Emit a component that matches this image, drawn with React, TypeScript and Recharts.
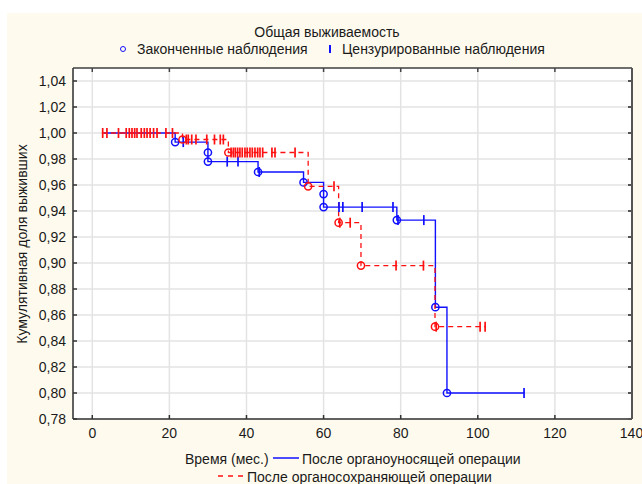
import { ComposedChart, Line, Scatter, XAxis, YAxis, CartesianGrid } from 'recharts'

// После органоуносящей операции (синяя)
const radStepT = [3, 21.5, 30, 43, 54.8, 60, 79, 89, 92, 112]
const radStepS = [1.0, 0.993, 0.978, 0.97, 0.962, 0.943, 0.933, 0.866, 0.8, 0.8]
const radEventT = [21.5, 30, 30, 43, 54.8, 60, 60, 79, 89, 92]
const radEventS = [0.993, 0.985, 0.978, 0.97, 0.962, 0.953, 0.943, 0.933, 0.866, 0.8]
const radCensT = [23.6, 35, 37.8, 43.3, 64, 65, 70, 78, 79.3, 86, 112]
const radCensS = [0.993, 0.978, 0.978, 0.97, 0.943, 0.943, 0.943, 0.943, 0.933, 0.933, 0.8]

// После органосохраняющей операции (красная)
const consStepT = [2.5, 23.4, 35.3, 56, 63.9, 69.7, 88.9, 102]
const consStepS = [1.0, 0.995, 0.985, 0.959, 0.931, 0.898, 0.851, 0.851]
const consEventT = [23.4, 35.3, 56, 63.9, 69.7, 88.9]
const consEventS = [0.995, 0.985, 0.959, 0.931, 0.898, 0.851]
const consCensT = [
  2.7, 3.8, 6.8, 8.8, 9.6, 10.3, 11.0, 11.6, 12.7, 13.5, 14.2, 15.0, 15.9, 16.8, 19.1, 20.8,
  24.4, 24.9, 25.8, 26.9, 29.7, 31.7, 33.2, 34.0,
  36.0, 36.6, 37.1, 37.7, 38.3, 38.9, 39.6, 40.2, 40.9, 41.5, 42.2, 42.9, 43.5, 44.2, 46.6, 47.4, 52.6,
  62.7, 64.2, 66.9, 78.8, 85.9, 89.2, 100.6, 101.9,
]
const consCensS = [
  ...Array(16).fill(1.0),
  ...Array(8).fill(0.995),
  ...Array(17).fill(0.985),
  0.959, 0.931, 0.931, 0.898, 0.898, 0.851, 0.851, 0.851,
]

const xTicks = [0, 20, 40, 60, 80, 100, 120, 140]
const yTicks = [0.78, 0.8, 0.82, 0.84, 0.86, 0.88, 0.9, 0.92, 0.94, 0.96, 0.98, 1.0, 1.02, 1.04]

const BLUE = '#1010ff'
const RED = '#ff1010'
const FONT = '"Liberation Sans", Arial, sans-serif'

const pts = (t: number[], s: number[]) => t.map((v, i) => ({ t: v, s: s[i] }))
const fmt = (v: number) => v.toFixed(2).replace('.', ',')
const blank = () => ''

const ring = (color: string) => (p: any) => (
  <circle cx={p.cx} cy={p.cy} r={3.6} fill="none" stroke={color} strokeWidth={1.5} />
)
const tick = (color: string) => (p: any) => (
  <line x1={p.cx} x2={p.cx} y1={p.cy - 5} y2={p.cy + 5} stroke={color} strokeWidth={1.7} />
)

const txt: React.CSSProperties = {
  position: 'absolute', fontFamily: FONT, fontSize: 14, color: '#1a1a1a', whiteSpace: 'nowrap', lineHeight: '16px',
}

export default function App() {
  const axisTick = { fontSize: 14, fill: '#1a1a1a', fontFamily: FONT }
  return (
    <div style={{ position: 'absolute', left: 0, top: 0, width: 642, height: 484, background: '#fff' }}>
      <div style={{ position: 'absolute', left: 7, top: 13, width: 635, height: 471, background: '#fffaee' }} />

      <div style={{ ...txt, left: 0, width: 654, top: 24, textAlign: 'center' }}>Общая выживаемость</div>
      <div style={{ position: 'absolute', left: 120, top: 46, width: 6, height: 6, borderRadius: '50%', border: `1.5px solid ${BLUE}`, boxSizing: 'border-box' }} />
      <div style={{ ...txt, left: 137, top: 41 }}>Законченные наблюдения</div>
      <div style={{ position: 'absolute', left: 329, top: 45, width: 2, height: 8, background: BLUE }} />
      <div style={{ ...txt, left: 342, top: 41 }}>Цензурированные наблюдения</div>

      <div style={{ ...txt, left: 22, top: 244, transform: 'translate(-50%, -50%) rotate(-90deg)' }}>
        Кумулятивная доля выживших
      </div>

      <div style={{ ...txt, left: 185, top: 451 }}>Время (мес.)</div>
      <svg style={{ position: 'absolute', left: 272, top: 454 }} width={28} height={8}>
        <line x1={1} x2={27} y1={4} y2={4} stroke={BLUE} strokeWidth={1.5} />
      </svg>
      <div style={{ ...txt, left: 302, top: 451 }}>После органоуносящей операции</div>
      <svg style={{ position: 'absolute', left: 217, top: 472 }} width={30} height={8}>
        <line x1={1} x2={28} y1={4} y2={4} stroke={RED} strokeWidth={1.5} strokeDasharray="5 5" />
      </svg>
      <div style={{ ...txt, left: 247, top: 469 }}>После органосохраняющей операции</div>

      <div style={{ position: 'absolute', left: 0, top: 0 }}>
        <ComposedChart width={642} height={484} margin={{ top: 67, right: 9, left: 23, bottom: 35 }} style={{ fontFamily: FONT }}>
          <CartesianGrid fill="#fff" stroke="#e3e3e3" strokeWidth={1.5} />
          <XAxis
            dataKey="t" type="number" domain={[-5, 140]} ticks={xTicks} allowDataOverflow
            height={30} tickSize={-4} tickMargin={13} tick={axisTick}
            stroke="#333" strokeWidth={1.5}
          />
          <XAxis
            xAxisId="top" orientation="top" dataKey="t" type="number" domain={[-5, 140]} ticks={xTicks}
            allowDataOverflow height={1} tickSize={-4} tickFormatter={blank} stroke="#444" strokeWidth={1.5}
          />
          <YAxis
            dataKey="s" type="number" domain={[0.78, 1.05]} ticks={yTicks} allowDataOverflow
            width={50} tickSize={-4} tickMargin={11} tickFormatter={fmt} tick={axisTick}
            stroke="#333" strokeWidth={1.5}
          />
          <YAxis
            yAxisId="right" orientation="right" dataKey="s" type="number" domain={[0.78, 1.05]} ticks={yTicks}
            allowDataOverflow width={1} tickSize={-4} tickFormatter={blank} stroke="#555" strokeWidth={2}
          />
          <Line data={pts(radStepT, radStepS)} dataKey="s" type="stepAfter" stroke={BLUE} strokeWidth={1.4} dot={false} activeDot={false} isAnimationActive={false} />
          <Line data={pts(consStepT, consStepS)} dataKey="s" type="stepAfter" stroke={RED} strokeWidth={1.3} strokeDasharray="5 4" dot={false} activeDot={false} isAnimationActive={false} />
          <Scatter data={pts(radEventT, radEventS)} dataKey="s" shape={ring(BLUE)} isAnimationActive={false} />
          <Scatter data={pts(radCensT, radCensS)} dataKey="s" shape={tick(BLUE)} isAnimationActive={false} />
          <Scatter data={pts(consEventT, consEventS)} dataKey="s" shape={ring(RED)} isAnimationActive={false} />
          <Scatter data={pts(consCensT, consCensS)} dataKey="s" shape={tick(RED)} isAnimationActive={false} />
        </ComposedChart>
      </div>
    </div>
  )
}
